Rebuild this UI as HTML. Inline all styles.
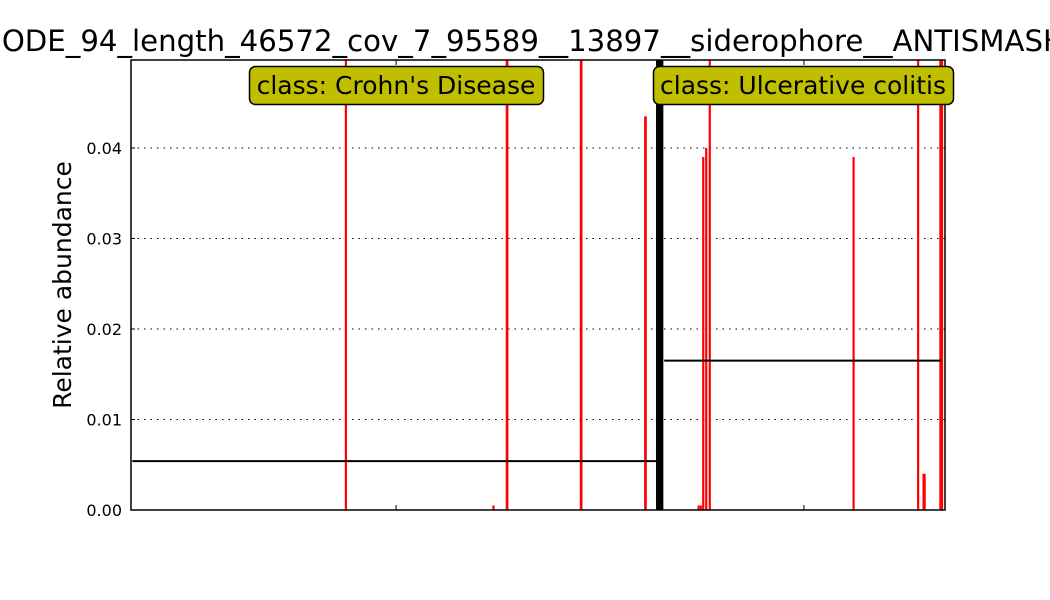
<!DOCTYPE html>
<html><head><meta charset="utf-8"><style>body{margin:0;background:#fff}svg{display:block;font-family:"DejaVu Sans","Liberation Sans",sans-serif}</style></head>
<body>
<svg id="chart" width="1050" height="600" viewBox="0 0 1050 600">
<rect width="1050" height="600" fill="#fff"/>
<text x="-20" y="51" font-size="29.2">NODE_94_length_46572_cov_7_95589__13897__siderophore__ANTISMASH</text>
<g id="grid"></g><g id="bars"></g><g id="means"></g>
<rect x="131" y="60" width="814" height="450" fill="none" stroke="#000" stroke-width="1.5"/>
<g id="axes"></g>
<text transform="translate(71,285) rotate(-90)" text-anchor="middle" font-size="25">Relative abundance</text>
<g><rect x="249.5" y="66.5" width="294" height="38" rx="6" fill="#bfbf00" stroke="#000" stroke-width="1.5"/><text x="396" y="94" text-anchor="middle" font-size="25">class: Crohn's Disease</text></g>
<g><rect x="653.5" y="66.5" width="300" height="38" rx="6" fill="#bfbf00" stroke="#000" stroke-width="1.5"/><text x="803" y="94" text-anchor="middle" font-size="25">class: Ulcerative colitis</text></g>
</svg>
<script>
const sampleIdx=[79.2,133.6,138.6,165.9,189.6,209.2,210.0,210.9,212.0,213.3,266.3,290.1,292.3,298.6];
const values=[0.06,0.0005,0.06,0.06,0.0435,0.0005,0.0005,0.039,0.040,0.06,0.039,0.06,0.004,0.06];
const barW=[0.8,0.8,1,1,1,0.8,0.8,0.8,0.8,0.8,0.8,0.8,1.2,1.4];
const yTicks=[0,0.01,0.02,0.03,0.04];
const yTickLabels=["0.00","0.01","0.02","0.03","0.04"];
const groups=["Crohn's Disease","Ulcerative colitis"];
const groupStart=[0.5,196.5];
const groupEnd=[193.5,298.6];
const groupMean=[0.0054,0.0165];
const divider=[193.5,196.2];
const xTicks=[97.7,248];
const NS="http://www.w3.org/2000/svg";
const x=i=>131+i*(814/300), y=v=>510-Math.min(v,0.0497)*9050;
function mk(p,t,a){const e=document.createElementNS(NS,t);for(const k in a)e.setAttribute(k,a[k]);document.getElementById(p).appendChild(e);return e;}
yTicks.forEach((t,i)=>{
 if(t>0){const g=mk('grid','line',{x1:131,x2:945,y1:y(t),y2:y(t),stroke:'#000','stroke-dasharray':'1.5,5'});
 
 }
 const tl=mk('axes','line',{x1:131,x2:135,y1:y(t),y2:y(t),stroke:'#000'});
 
 
 const tx=mk('axes','text',{x:122,y:y(t)+6,'text-anchor':'end','font-size':16});
 
 
 tx.textContent=yTickLabels[i];
});
xTicks.forEach(t=>{
 [[510,505],[60,65]].forEach(([a,b])=>{const l=mk('axes','line',{x1:x(t),x2:x(t),y1:a,y2:b,stroke:'#000'});
 
 });
});
sampleIdx.forEach((s,i)=>{
 const w=barW[i]*814/300;
 const r=mk('bars','rect',{x:x(s)-w/2,y:y(values[i]),width:w,height:510-y(values[i]),fill:'#f00'});
 
 
});
const d=mk('bars','rect',{x:x(divider[0]),y:60,width:x(divider[1])-x(divider[0]),height:450,fill:'#000'});


groups.forEach((g,i)=>{
 const m=mk('means','line',{x1:x(groupStart[i]),x2:x(groupEnd[i]),y1:y(groupMean[i]),y2:y(groupMean[i]),stroke:'#000','stroke-width':2});
 
 
});
</script>
</body></html>
